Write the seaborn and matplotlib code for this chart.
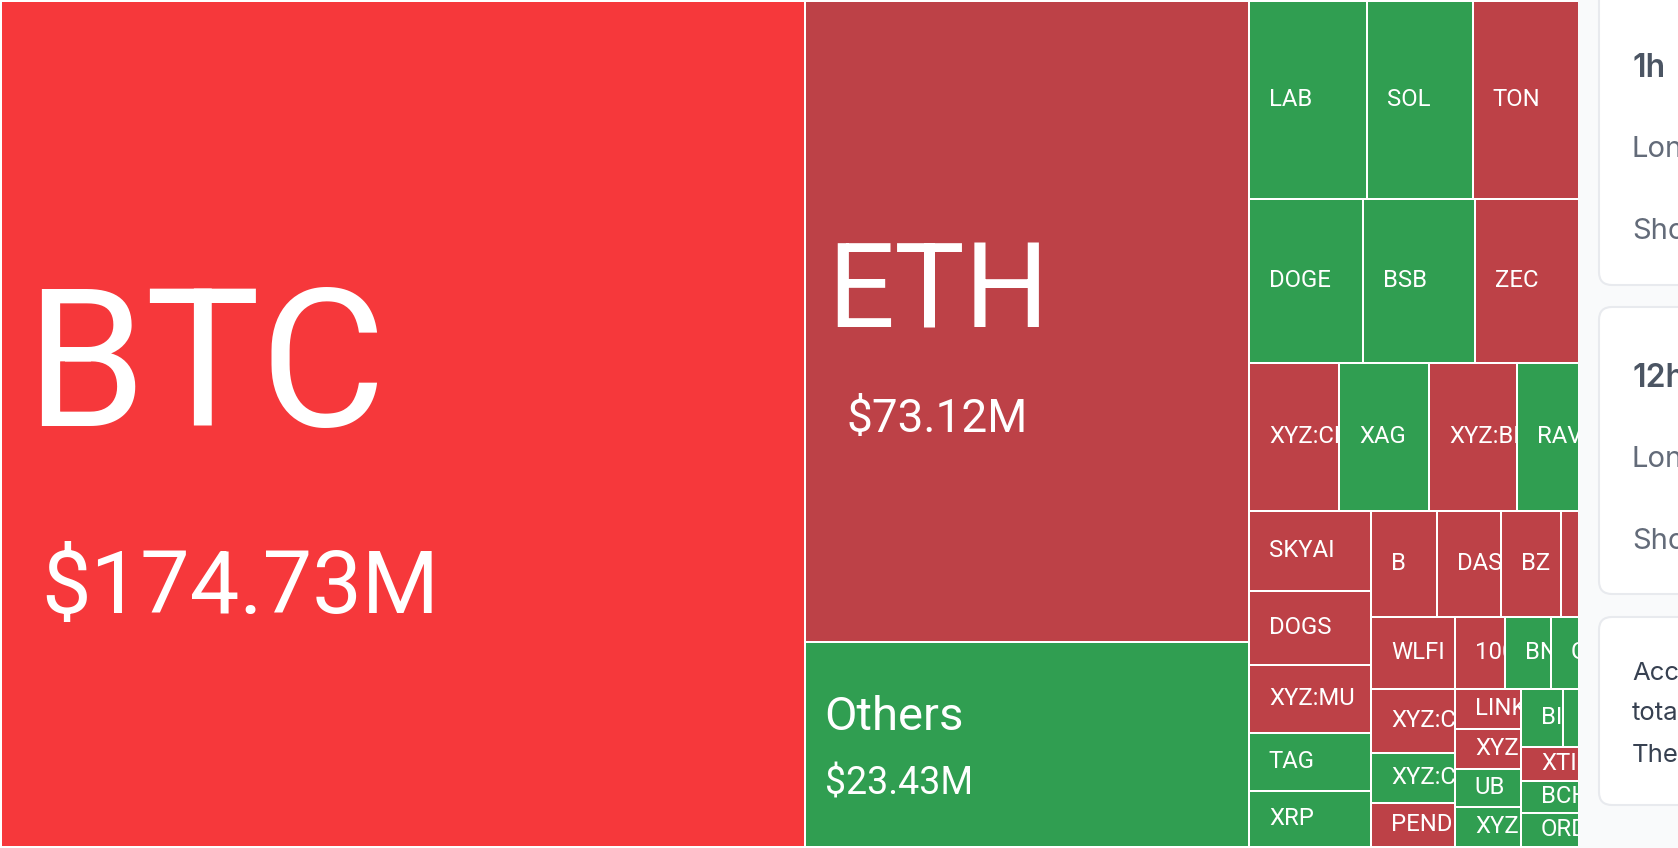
import matplotlib
matplotlib.use("Agg")
import matplotlib.pyplot as plt
from matplotlib.patches import FancyBboxPatch, Rectangle
import pandas as pd
import seaborn as sns

W, H = 1678, 848
DPI = 100

# tile values in $M, the three big ones are printed, the rest read from tile areas
names = ["BTC", "ETH", "Others",
         "LAB", "SOL", "TON",
         "DOGE", "BSB", "ZEC",
         "XYZ:CL", "XAG", "XYZ:BRENT", "RAVE",
         "SKYAI", "DOGS", "XYZ:MU", "TAG", "XRP",
         "B", "DASH", "BZ", "",
         "WLFI", "1000PEPE", "BNB", "GOLD",
         "XYZ:COPPER", "XYZ:CRCL", "PENDLE",
         "LINK", "XYZ:SP", "UB", "XYZ:NV",
         "BIO", "", "XTI", "BCH", "ORDI"]
values = [174.73, 73.12, 23.43,
          6.002, 5.391, 5.391,
          4.803, 4.718, 4.381,
          3.422, 3.422, 3.346, 2.357,
          2.507, 2.319, 2.131, 1.818, 1.755,
          1.797, 1.743, 1.634, 0.490,
          1.554, 0.925, 0.851, 0.518,
          1.381, 1.079, 0.949,
          0.678, 0.678, 0.644, 0.678,
          0.626, 0.238, 0.507, 0.477, 0.507]
sides = ["top", "short", "long",
         "long", "long", "short",
         "long", "long", "short",
         "short", "long", "short", "long",
         "short", "short", "short", "long", "long",
         "short", "short", "short", "short",
         "short", "short", "long", "long",
         "short", "long", "short",
         "short", "short", "long", "long",
         "long", "long", "short", "long", "long"]

# how the tiles nest: "h" splits left to right, "v" top to bottom
nesting = ("h", [0,
                 ("v", [1, 2]),
                 ("v", [("h", [3, 4, 5]),
                        ("h", [6, 7, 8]),
                        ("h", [9, 10, 11, 12]),
                        ("h", [("v", [13, 14, 15, 16, 17]),
                               ("v", [("h", [18, 19, 20, 21]),
                                      ("h", [22, 23, 24, 25]),
                                      ("h", [("v", [26, 27, 28]),
                                             ("v", [29, 30, 31, 32]),
                                             ("v", [("h", [33, 34]), 35, 36, 37])])])])])])

palette = {"top": "#f6383b", "short": "#bd4147", "long": "#309e51"}
sns.set_theme(style="white")
plt.rcParams["font.family"] = ["Roboto", "DejaVu Sans"]


def node_sum(node):
    if isinstance(node, int):
        return values[node]
    return sum(node_sum(child) for child in node[1])


def layout(node, x, y, w, h, out):
    if isinstance(node, int):
        out.append(dict(name=names[node], value=values[node], side=sides[node],
                        x=x, y=y, w=w, h=h))
        return
    total = node_sum(node)
    for child in node[1]:
        share = node_sum(child) / total
        if node[0] == "h":
            layout(child, x, y, w * share, h, out)
            x += w * share
        else:
            layout(child, x, y, w, h * share, out)
            y += h * share


rows = []
layout(nesting, 0, 0, 1, 1, rows)
tiles = pd.DataFrame(rows)

fig = plt.figure(figsize=(W / DPI, H / DPI), dpi=DPI, facecolor="white")
ax = fig.add_axes([1 / W, 1 - 847 / H, 1578 / W, 846 / H])
ax.set_xlim(0, 1)
ax.set_ylim(1, 0)
ax.axis("off")

# name x, name baseline, name size, value x, value baseline, value size (pixels from the figure corner)
big_labels = {
    "BTC": (25, 426, 139, 41, 613, 63.5),
    "ETH": (827, 328, 85, 846, 432, 33),
    "Others": (824, 730, 34, 825, 794, 27),
}

for _, t in tiles.iterrows():
    bar = ax.bar(t.x, t.h, width=t.w, bottom=t.y, align="edge",
                 color=palette[t.side], edgecolor="white", linewidth=1.44, clip_on=False)[0]
    if t["name"] in big_labels:
        nx, ny, ns, vx, vy, vs = big_labels[t["name"]]
        fig.text(nx / W, 1 - ny / H, t["name"], color="white", fontsize=ns, va="baseline")
        fig.text(vx / W, 1 - vy / H, f"${t.value:.2f}M", color="white", fontsize=vs, va="baseline")
    elif t["name"]:
        label = ax.annotate(t["name"], (t.x, t.y + t.h / 2), xytext=(14.3, 2.0),
                            textcoords="offset points", color="white", fontsize=17.2,
                            va="center_baseline", ha="left", zorder=5, annotation_clip=False)
        label.set_clip_path(bar)
        label.set_clip_on(True)

# side panel next to the map
panel = fig.add_axes([0, 0, 1, 1], facecolor="none")
panel.set_xlim(0, W)
panel.set_ylim(H, 0)
panel.axis("off")
panel.add_patch(Rectangle((1578, 0), W - 1578, H, color="#f9fafb", lw=0))
for top, bottom in [(-30, 285), (307, 594), (617, 805)]:
    panel.add_patch(FancyBboxPatch((1612, top + 13), 200, bottom - top - 26,
                                   boxstyle="round,pad=13,rounding_size=13",
                                   fc="white", ec="#e8eaee", lw=1.5))

panel_font = ["Inter", "DejaVu Sans"]
for text, y in [("1h", 77), ("12h", 387)]:
    panel.text(1632, y, text, color="#4b5563", fontsize=23, fontweight="semibold", family=panel_font)
for text, y in [("Long", 157), ("Short", 239), ("Long", 467), ("Short", 549)]:
    panel.text(1632, y, text, color="#636b79", fontsize=21, family=panel_font)
for text, y in [("Acc", 680), ("total", 720), ("The", 762)]:
    panel.text(1632, y, text, color="#374151", fontsize=18.5, family=panel_font)

fig.savefig("out.png", dpi=DPI)
